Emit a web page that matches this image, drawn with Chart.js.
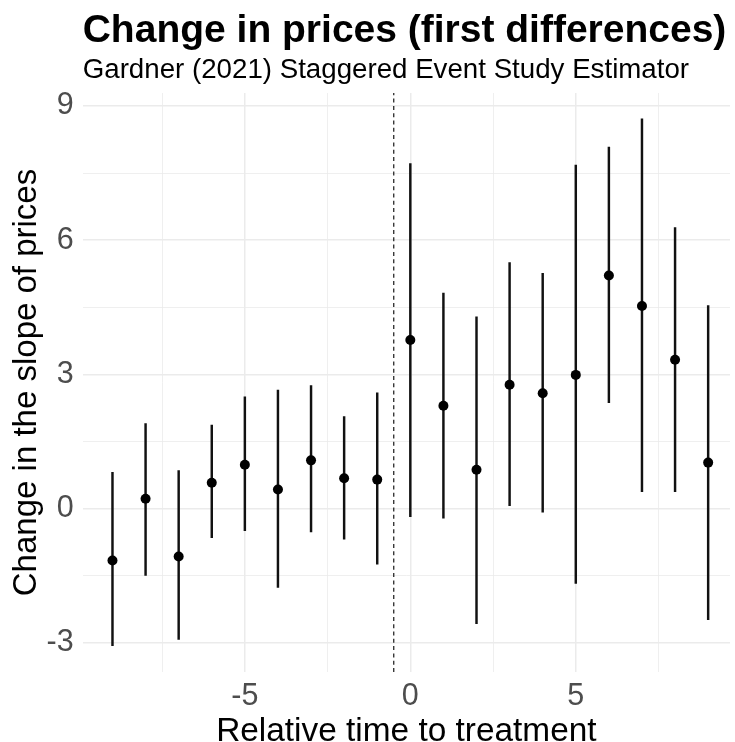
<!DOCTYPE html>
<html>
<head>
<meta charset="utf-8">
<title>Change in prices (first differences)</title>
<script src="https://cdn.jsdelivr.net/npm/chart.js@4/dist/chart.umd.min.js"></script>
<style>
    html, body { margin: 0; padding: 0; background: #fff; }
    #wrap { width: 735px; height: 742px; }
</style>
</head>
<body>
<div id="wrap"><canvas id="eventStudyChart" width="735" height="742"></canvas></div>
<script>
var chartTitle = "Change in prices (first differences)";
var chartSubtitle = "Gardner (2021) Staggered Event Study Estimator";
var xAxisTitle = "Relative time to treatment";
var yAxisTitle = "Change in the slope of prices";

// event time, point estimate, confidence interval
var relTime  = [-9, -8, -7, -6, -5, -4, -3, -2, -1, 0, 1, 2, 3, 4, 5, 6, 7, 8, 9];
var estimate = [-1.16, 0.22, -1.07, 0.58, 0.98, 0.43, 1.08, 0.68, 0.65, 3.77, 2.30, 0.87, 2.77, 2.58, 2.99, 5.21, 4.53, 3.33, 1.03];
var ciLow    = [-3.06, -1.49, -2.92, -0.65, -0.49, -1.76, -0.52, -0.68, -1.24, -0.18, -0.21, -2.57, 0.07, -0.08, -1.67, 2.37, 0.38, 0.38, -2.48];
var ciHigh   = [0.81, 1.90, 0.85, 1.87, 2.50, 2.65, 2.75, 2.06, 2.59, 7.71, 4.82, 4.29, 5.50, 5.26, 7.68, 8.08, 8.71, 6.28, 4.54];

var treatmentLine = -0.5;

var xTicks = [-7.5, -5, -2.5, 0, 2.5, 5, 7.5];
var xTickLabels = ["", "-5", "", "0", "", "5", ""];
var yTicks = [-3, -1.5, 0, 1.5, 3, 4.5, 6, 7.5, 9];
var yTickLabels = ["-3", "", "0", "", "3", "", "6", "", "9"];

var xLimits = [-9.9, 9.66];
var yLimits = [-3.65, 9.29];

var FONT = '"Liberation Sans", Arial, sans-serif';

function labelFor(ticks, labels, value) {
    var i = ticks.indexOf(value);
    return i < 0 ? "" : labels[i];
}

// ggplot style title + subtitle, left aligned to the panel
var titlePlugin = {
    id: 'ggTitle',
    afterDraw: function(chart) {
        var ctx = chart.ctx;
        var left = chart.chartArea.left;
        ctx.save();
        ctx.fillStyle = "#000";
        ctx.textAlign = "left";
        ctx.textBaseline = "alphabetic";
        ctx.font = "bold 39px " + FONT;
        ctx.fillText(chartTitle, left, 42);
        ctx.font = "27.7px " + FONT;
        ctx.fillText(chartSubtitle, left, 78);
        ctx.restore();
    }
};

function gridWidth(labels, ticks) {
    return function(context) {
        if (!context.tick) return 0;
        return labelFor(ticks, labels, context.tick.value) !== "" ? 1.5 : 0.8;
    };
}

var ctx = document.getElementById("eventStudyChart").getContext("2d");

var eventStudyChart = new Chart(ctx, {
    type: 'scatter',
    data: {
        datasets: [
            {
                type: 'scatter',
                label: "Estimate",
                data: relTime.map(function(t, i) { return {x: t, y: estimate[i]}; }),
                pointRadius: 5,
                pointBackgroundColor: "#000",
                pointBorderWidth: 0,
                pointHoverRadius: 5
            },
            {
                type: 'bar',
                label: "95% CI",
                data: relTime.map(function(t, i) { return {x: t, y: [ciLow[i], ciHigh[i]]}; }),
                backgroundColor: "#111",
                borderWidth: 0,
                barThickness: 1.8
            },
            {
                type: 'line',
                label: "Treatment",
                data: [{x: treatmentLine, y: yLimits[0]}, {x: treatmentLine, y: yLimits[1]}],
                borderColor: "#000",
                borderWidth: 1.1,
                borderDash: [4, 3.3],
                pointRadius: 0,
                fill: false
            }
        ]
    },
    options: {
        responsive: false,
        animation: false,
        events: [],
        layout: {
            padding: {top: 93, right: 0, bottom: 0, left: 0}
        },
        plugins: {
            legend: {display: false},
            tooltip: {enabled: false}
        },
        scales: {
            x: {
                type: 'linear',
                position: 'bottom',
                offset: false,
                min: xLimits[0],
                max: xLimits[1],
                afterBuildTicks: function(axis) {
                    axis.ticks = xTicks.map(function(v) { return {value: v}; });
                },
                afterFit: function(axis) {
                    axis.height = 70;
                },
                grid: {
                    color: "#EBEBEB",
                    lineWidth: gridWidth(xTickLabels, xTicks),
                    drawTicks: false,
                    offset: false
                },
                border: {display: false},
                ticks: {
                    autoSkip: false,
                    maxRotation: 0,
                    padding: 6,
                    color: "#4D4D4D",
                    font: {family: FONT, size: 30.5},
                    callback: function(value) { return labelFor(xTicks, xTickLabels, value); }
                },
                title: {
                    display: true,
                    text: xAxisTitle,
                    color: "#000",
                    padding: {top: 0, bottom: -6},
                    font: {family: FONT, size: 33.4, lineHeight: 1}
                }
            },
            y: {
                type: 'linear',
                min: yLimits[0],
                max: yLimits[1],
                afterBuildTicks: function(axis) {
                    axis.ticks = yTicks.map(function(v) { return {value: v}; });
                },
                afterFit: function(axis) {
                    axis.width = 82.7;
                },
                grid: {
                    color: "#EBEBEB",
                    lineWidth: gridWidth(yTickLabels, yTicks),
                    drawTicks: false
                },
                border: {display: false},
                ticks: {
                    autoSkip: false,
                    padding: 9,
                    color: "#4D4D4D",
                    font: {family: FONT, size: 30.5},
                    callback: function(value) { return labelFor(yTicks, yTickLabels, value); }
                },
                title: {
                    display: true,
                    text: yAxisTitle,
                    color: "#000",
                    padding: {top: 10, bottom: 0},
                    font: {family: FONT, size: 33, lineHeight: 1}
                }
            }
        }
    },
    plugins: [titlePlugin]
});
</script>
</body>
</html>
